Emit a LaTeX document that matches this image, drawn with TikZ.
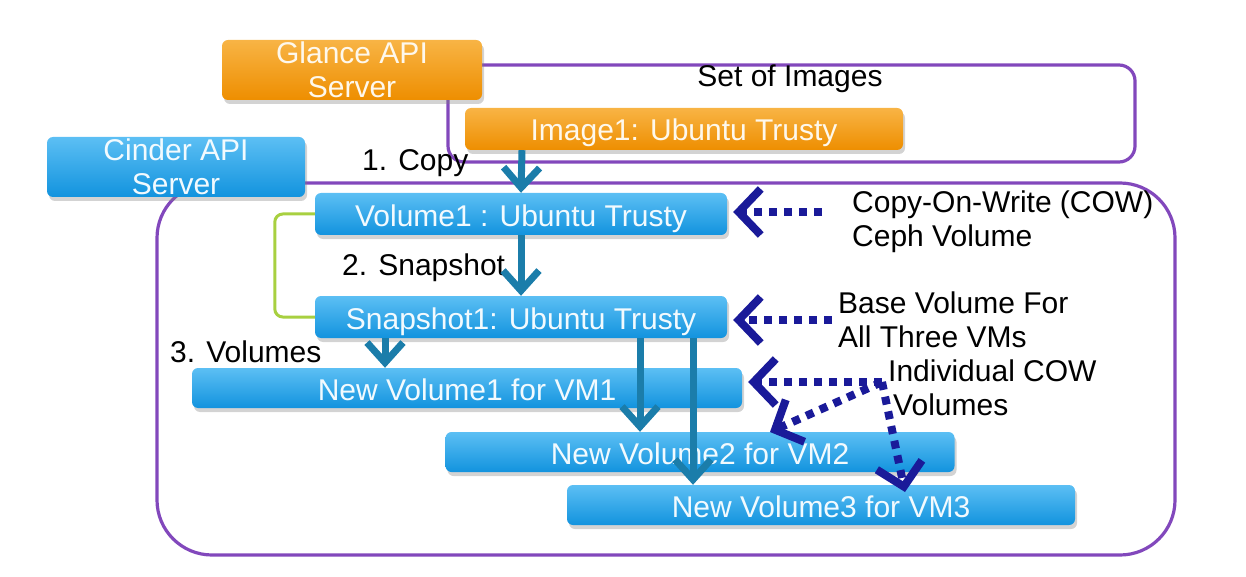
\documentclass[tikz,border=0pt]{standalone}
\usepackage{fontspec}
\setmainfont{Liberation Sans}
\usetikzlibrary{arrows.meta,shadows,calc}
\definecolor{blueT}{HTML}{5CBFF4}
\definecolor{blueB}{HTML}{1293DE}
\definecolor{orangeT}{HTML}{F8B445}
\definecolor{orangeB}{HTML}{EE8E00}
\definecolor{frame}{HTML}{8248BC}
\definecolor{flowc}{HTML}{1B7DAA}
\definecolor{navy}{HTML}{1A1A99}
\definecolor{brack}{HTML}{A8D040}
\begin{document}
\begin{tikzpicture}[x=1pt,y=-1pt,
  box/.style={rounded corners=6pt, inner sep=0pt, align=center,
    text=white!92!blueT, font=\fontsize{30}{34}\selectfont,
    drop shadow={opacity=0.35, shadow xshift=2pt, shadow yshift=-4pt}},
  oneline/.style={text height=24pt, text depth=0pt},
  bluebox/.style={box, top color=blueT, bottom color=blueB},
  orangebox/.style={box, top color=orangeT, bottom color=orangeB, text=white!90!orangeT},
  grp/.style={draw=frame, line width=3.2pt},
  flow/.style={draw=flowc, line width=7pt, -{Straight Barb[length=20pt,width=36pt,line width=7pt]}},
  cow/.style={draw=navy, line width=8pt, dash pattern=on 8pt off 7pt,
    -{Straight Barb[length=22pt,width=46pt,line width=8pt]}},
  lbl/.style={font=\fontsize{30}{34}\selectfont, text=black, inner sep=0pt, anchor=west, align=left}]
\useasboundingbox (0,0) rectangle (1246,577);
% group frames
\draw[grp, rounded corners=16pt] (448,65) rectangle (1135,162);
\draw[grp, rounded corners=55pt] (157,183) rectangle (1175,555);
% top-level servers
\node[orangebox, minimum width=260pt, minimum height=60pt] (glance) at (352,70) {Glance API\\Server};
\node[bluebox, minimum width=258pt, minimum height=60pt] (cinder) at (176,167) {Cinder API\\Server};
% images
\node (setimg) [lbl, anchor=center] at (790,79) {Set of Images};
\node[orangebox, oneline, minimum width=438pt, minimum height=42pt] (img) at (684,129) {Image1: Ubuntu Trusty};
% volumes
\node[bluebox, oneline, minimum width=412pt, minimum height=42pt] (vol1) at (521,214) {Volume1 : Ubuntu Trusty};
\node[bluebox, oneline, minimum width=412pt, minimum height=42pt] (snap) at (521,317) {Snapshot1: Ubuntu Trusty};
\node[bluebox, oneline, minimum width=550pt, minimum height=40pt] (nv1) at (467,388) {New Volume1 for VM1};
\node[bluebox, oneline, minimum width=509pt, minimum height=40pt] (nv2) at (700,452) {New Volume2 for VM2};
\node[bluebox, oneline, minimum width=508pt, minimum height=40pt] (nv3) at (821,505) {New Volume3 for VM3};
% step labels
\node[lbl] (l1) at (362,163) {1. Copy};
\node[lbl] (l2) at (342,268) {2. Snapshot};
\node[lbl] (l3) at (170,352) {3. Volumes};
% bracket
\draw[brack, line width=3pt, rounded corners=8pt] (vol1.west) -- ++(-40,0) |- (snap.west);
% flow arrows
\draw[flow] ([xshift=-162pt]img.south) -- (vol1.north);
\draw[flow] (vol1.south) -- (snap.north);
\draw[flow] ([xshift=-136pt]snap.south) -- ([xshift=-136pt]snap.south |- nv1.north);
\draw[flow] ([xshift=119pt]snap.south) -- ([xshift=119pt]snap.south |- nv2.north);
\draw[flow] ([xshift=172pt]snap.south) -- ([xshift=172pt]snap.south |- nv3.north);
% annotations
\node[lbl] (t1) at (852,222) {Copy-On-Write (COW)\\Ceph Volume};
\node[lbl] (t2) at (838,320) {Base Volume For\\All Three VMs};
\node[lbl] (t3) at (888,388) {Individual COW\\\hspace{5pt}Volumes};
\coordinate (c1) at (822,212);
\coordinate (c2) at (832,320);
\coordinate (c3) at (882,382);
\draw[cow] (c1) -- ([xshift=6pt]vol1.east |- c1);
\draw[cow] (c2) -- ([xshift=6pt]snap.east |- c2);
\draw[cow] (c3) -- ([xshift=6pt]nv1.east |- c3);
\draw[cow] (c3) -- (770,432);
\draw[cow] (c3) -- (905,492);
\end{tikzpicture}
\end{document}
